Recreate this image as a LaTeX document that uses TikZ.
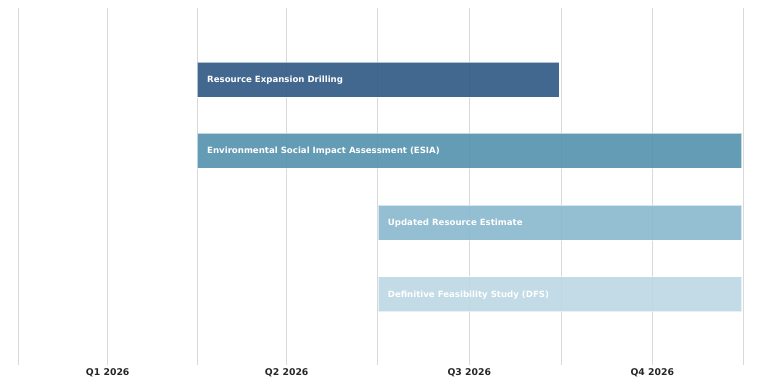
\documentclass[tikz,border=0pt]{standalone}
\usepackage{fontspec}
\setmainfont{DejaVu Sans}
\definecolor{cA}{HTML}{2F5883}
\definecolor{cB}{HTML}{5592AD}
\definecolor{cC}{HTML}{89B8CD}
\definecolor{cD}{HTML}{BCD8E4}
\definecolor{gridc}{HTML}{D9D9D9}
\definecolor{axtext}{HTML}{262626}
\tikzset{
  gridline/.style={draw=gridc, line width=1pt},
  bar/.style={rectangle, draw=white, draw opacity=0.6, line width=0.8pt, fill opacity=0.9, minimum height=35pt, inner sep=0pt, anchor=west},
  bartext/.style={anchor=west, text=white, font=\fontsize{8.6}{10}\selectfont\bfseries, inner sep=0pt},
  axlabel/.style={text=axtext, font=\fontsize{9.3}{11}\selectfont\bfseries, inner sep=0pt}
}
\begin{document}
\begin{tikzpicture}[x=1pt,y=-1pt]
\useasboundingbox[fill=white] (0,0) rectangle (760,389);
\foreach \gx/\gn in {18.3/g0,107.7/g1,197/g2,286.7/g3,377.7/g4,469.3/g5,561/g6,652.3/g7,743.3/g8}{
  \coordinate (\gn t) at (\gx,8);
  \coordinate (\gn b) at (\gx,365);
  \draw[gridline] (\gn t) -- (\gn b);
}
\node[bar, fill=cA, minimum width=361.7pt] (b1) at (197,79.5) {};
\node[bar, fill=cB, minimum width=544.3pt] (b2) at (197,150.8) {};
\node[bar, fill=cC, minimum width=363.6pt] (b3) at (377.7,222.5) {};
\node[bar, fill=cD, minimum width=363.6pt] (b4) at (377.7,294) {};
\node[bartext] (t1) at ([xshift=10pt,yshift=-0.8pt]b1.west) {Resource Expansion Drilling};
\node[bartext] (t2) at ([xshift=10pt,yshift=-0.8pt]b2.west) {Environmental Social Impact Assessment (ESIA)};
\node[bartext] (t3) at ([xshift=10pt,yshift=-0.8pt]b3.west) {Updated Resource Estimate};
\node[bartext] (t4) at ([xshift=10pt,yshift=-0.8pt]b4.west) {Definitive Feasibility Study (DFS)};
\node[axlabel] (q1) at (107.7,372.8) {Q1 2026};
\node[axlabel] (q2) at (286.7,372.8) {Q2 2026};
\node[axlabel] (q3) at (469.3,372.8) {Q3 2026};
\node[axlabel] (q4) at (652.3,372.8) {Q4 2026};
\end{tikzpicture}
\end{document}
